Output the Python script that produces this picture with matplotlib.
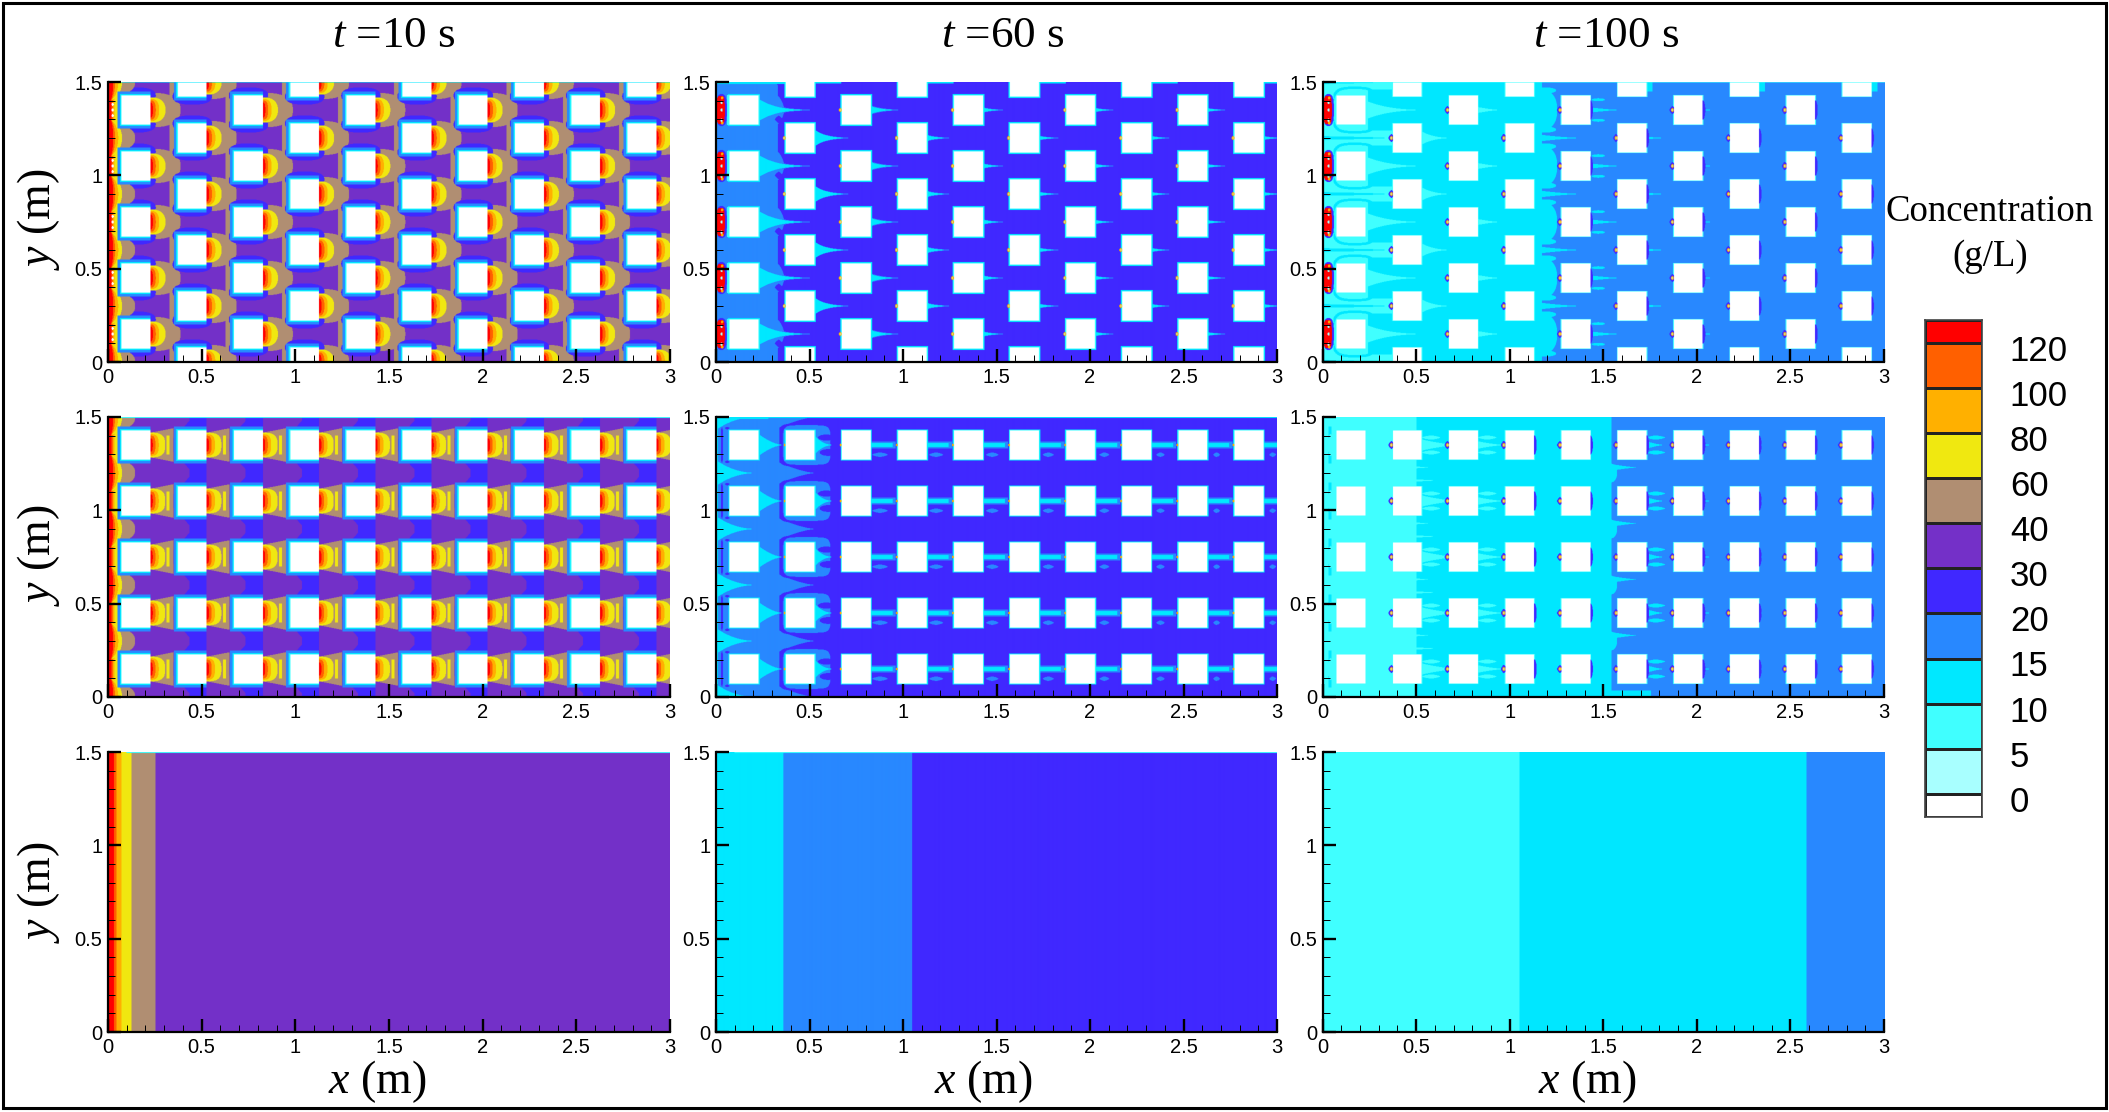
import numpy as np
import matplotlib
matplotlib.use("Agg")
import matplotlib.pyplot as plt
from matplotlib.colors import ListedColormap, BoundaryNorm
from matplotlib.patches import Rectangle
from matplotlib.ticker import MultipleLocator, FixedLocator

W, H = 2109, 1112
TITLES = ["10", "60", "100"]
X_TICKS = [0, 0.5, 1, 1.5, 2, 2.5, 3]
X_TICK_LABELS = ["0", "0.5", "1", "1.5", "2", "2.5", "3"]
Y_TICKS = [0, 0.5, 1, 1.5]
Y_TICK_LABELS = ["0", "0.5", "1", "1.5"]
LEVELS = [0, 5, 10, 15, 20, 30, 40, 60, 80, 100, 120]
COLORS = ["#FFFFFF", "#A8FFFF", "#40FFFF", "#00E8FF", "#2888FF", "#4028FF",
          "#7430C8", "#B08E72", "#F0E810", "#FFB000", "#FF6000", "#FF0000"]
# concentration of each contour band, g/L
BLOCK, PALE, AQUA, CYAN, BLUE, INDIGO, PURPLE, BROWN, YELLOW, AMBER, ORANGE, RED = \
    -5, 2.5, 7.5, 12.5, 17.5, 25, 35, 50, 70, 90, 110, 130

BLOCK_COLUMNS = [0.15, 0.45, 0.75, 1.05, 1.35, 1.65, 1.95, 2.25, 2.55, 2.85]
ROWS_A = [0.15, 0.45, 0.75, 1.05, 1.35]
ROWS_B = [0.0, 0.3, 0.6, 0.9, 1.2, 1.5]
HALF = 0.077

# homogeneous model (bottom row): right edge of each band and its value
BAND_EDGES_10 = [0.033, 0.046, 0.073, 0.125, 0.253, 3.0]
BAND_VALUES_10 = [RED, ORANGE, AMBER, YELLOW, BROWN, PURPLE]
BAND_EDGES_60 = [0.36, 1.05, 3.0]
BAND_VALUES_60 = [CYAN, BLUE, INDIGO]
BAND_EDGES_100 = [1.05, 2.58, 3.0]
BAND_VALUES_100 = [AQUA, CYAN, BLUE]

# wake streak length / half height per block column
WAKE60S_L = [0.38, 0.26, 0.23, 0.20, 0.19, 0.19, 0.18, 0.18, 0.18, 0.18]
WAKE60S_H = [0.06, 0.045, 0.03, 0.022, 0.018, 0.016, 0.015, 0.015, 0.014, 0.014]
WAKE100S_L = [0.38, 0.20, 0.13, 0.27, 0.18, 0.12, 0.07, 0.03, 0.0, 0.03]
WAKE100S_H = [0.05, 0.035, 0.016, 0.022, 0.014, 0.007, 0.005, 0.004, 0.0, 0.004]
WAKE100S_V = [AQUA, AQUA, AQUA, CYAN, CYAN, CYAN, CYAN, CYAN, CYAN, CYAN]
WAKE100A_L = [0.0, 0.20, 0.15, 0.09, 0.10, 0.10, 0.05, 0.03, 0.02, 0.02]
WAKE100A_H = [0.0, 0.03, 0.02, 0.012, 0.012, 0.02, 0.008, 0.005, 0.004, 0.004]
WAKE100A_V = [AQUA, AQUA, AQUA, CYAN, CYAN, CYAN, CYAN, CYAN, CYAN, CYAN]

NX, NY = 1124, 560
xc = (np.arange(NX) + 0.5) * 3.0 / NX
yc = (np.arange(NY) + 0.5) * 1.5 / NY


def sl(x0, x1, y0, y1):
    i0, i1 = np.searchsorted(xc, [x0, x1])
    j0, j1 = np.searchsorted(yc, [y0, y1])
    return slice(j0, j1), slice(i0, i1)


def rect(Z, x0, x1, y0, y1, v):
    Z[sl(x0, x1, y0, y1)] = v


def ell(Z, cx, cy, a, b, v, p=2.0):
    s = sl(cx - a, cx + a, cy - b, cy + b)
    X, Y = np.meshgrid(xc[s[1]], yc[s[0]])
    Z[s][(np.abs(X - cx) / a) ** p + (np.abs(Y - cy) / b) ** p <= 1] = v


def taper(Z, x0, L, cy, h, v, p=2.0):
    if L <= 0 or h <= 0:
        return
    s = sl(x0, x0 + L, cy - h, cy + h)
    X, Y = np.meshgrid(xc[s[1]], yc[s[0]])
    Z[s][np.abs(Y - cy) <= h * (1 - (X - x0) / L) ** p] = v


def blocks(staggered):
    for i, cx in enumerate(BLOCK_COLUMNS):
        rows = ROWS_B if (staggered and i % 2) else ROWS_A
        for cy in rows:
            yield i, cx, cy


def rim(Z, staggered, layers, right=True):
    for d, v in layers:
        for _, cx, cy in blocks(staggered):
            rect(Z, cx - HALF - d, cx + HALF + (d if right else 0),
                 cy - HALF - d, cy + HALF + d, v)


def punch(Z, staggered):
    for _, cx, cy in blocks(staggered):
        rect(Z, cx - HALF, cx + HALF, cy - HALF, cy + HALF, BLOCK)


def inlet_hot(Z):
    rect(Z, 0, 0.05, 0, 1.5, YELLOW)
    rect(Z, 0, 0.035, 0, 1.5, AMBER)
    rect(Z, 0, 0.026, 0, 1.5, ORANGE)
    rect(Z, 0, 0.018, 0, 1.5, RED)
    for cy in ROWS_B:
        ell(Z, 0, cy, 0.145, 0.07, BROWN, 2.5)
    for cy in ROWS_B:
        ell(Z, 0.0, cy, 0.075, 0.10, YELLOW)
        ell(Z, 0.0, cy, 0.055, 0.10, AMBER)
        ell(Z, 0.0, cy, 0.038, 0.11, ORANGE)
        ell(Z, 0.0, cy, 0.028, 0.12, RED)


def inlet_spots(Z):
    for cy in ROWS_A:
        rect(Z, 0.006, 0.055, cy - 0.09, cy + 0.09, Z[sl(0.03, 0.04, cy + 0.11, cy + 0.12)].flat[0])
        ell(Z, 0.03, cy, 0.028, 0.085, INDIGO, 3)
        ell(Z, 0.025, cy, 0.022, 0.075, RED, 4)
        for dy in (-0.055, 0.0, 0.04):
            ell(Z, 0.03, cy + dy, 0.006, 0.009, PALE)
        for dy in (-0.07, 0.065):
            ell(Z, 0.033, cy + dy, 0.007, 0.008, AMBER)


def dots(Z, staggered, start=1, dia=True, rx=0.016, ry=0.022, right_from=None):
    for i, cx, cy in blocks(staggered):
        if i >= start and (0.03 < cy < 1.47):
            x = cx - HALF - 0.008
            if dia:
                ell(Z, x, cy, rx, ry, INDIGO, 1.3)
            ell(Z, x, cy, 0.008, 0.010, AMBER)
            ell(Z, x, cy, 0.004, 0.004, PALE)
        if right_from is not None and i >= right_from and (0.03 < cy < 1.47):
            ell(Z, cx + HALF, cy, 0.014, 0.052, INDIGO)


def field_stag_10():
    Z = np.full((NY, NX), PURPLE, float)
    for i, cx in enumerate(BLOCK_COLUMNS):
        rect(Z, cx + 0.178, cx + 0.205, 0, 1.5, BROWN)
    for _, cx, cy in blocks(True):
        ell(Z, cx + HALF, cy, 0.16, 0.092, BROWN, 2.6)
    for _, cx, cy in blocks(True):
        ell(Z, cx, cy + HALF, 0.105, 0.044, INDIGO, 2.5)
        ell(Z, cx, cy - HALF, 0.105, 0.044, INDIGO, 2.5)
    inlet_hot(Z)
    for cy in ROWS_A:
        for dy in (-0.03, 0.0, 0.03):
            ell(Z, 0.025, cy + dy, 0.006, 0.008, BLOCK)
    rim(Z, True, [(0.022, BLUE), (0.009, CYAN), (0.004, AQUA)], right=False)
    for _, cx, cy in blocks(True):
        xr = cx + HALF
        ell(Z, xr, cy, 0.080, 0.068, YELLOW, 2.4)
        ell(Z, xr, cy, 0.046, 0.060, AMBER, 2.6)
        ell(Z, xr, cy, 0.028, 0.052, ORANGE, 2.6)
        ell(Z, xr, cy, 0.013, 0.040, RED, 2.6)
    punch(Z, True)
    rect(Z, 0, 3, 1.496, 1.5, CYAN)
    return Z


def field_stag_60():
    Z = np.full((NY, NX), INDIGO, float)
    rect(Z, 0, 0.33, 0, 1.5, BLUE)
    for cy in ROWS_A:
        ell(Z, 0.29, cy, 0.075, 0.10, BLUE, 1.7)
    for cy in ROWS_B:
        ell(Z, 0.335, cy + 0.1 if cy < 1.5 else cy, 0.02, 0.02, INDIGO, 1.2)
    for i, cx, cy in blocks(True):
        L, h = WAKE60S_L[i], WAKE60S_H[i]
        if 0.03 < cy < 1.47:
            taper(Z, cx + HALF, L * 1.04, cy, h * 0.8, BLUE, 3.0)
            taper(Z, cx + HALF, L, cy, h * 0.7 if i > 1 else h, CYAN, 4.0)
    rect(Z, 0, 0.006, 0, 1.5, CYAN)
    rect(Z, 0, 0.5, 1.49, 1.5, CYAN)
    rect(Z, 0.55, 1.1, 0, 0.006, CYAN)
    for c in BLOCK_COLUMNS[1::2]:
        rect(Z, c + HALF, c + 0.22, 1.492, 1.5, CYAN)
    inlet_spots(Z)
    rim(Z, True, [(0.008, CYAN), (0.004, AQUA)])
    for cy in ROWS_A:
        rect(Z, 0.06, 0.073, cy - 0.08, cy + 0.08, AQUA)
    dots(Z, True, dia=False)
    punch(Z, True)
    return Z


def field_stag_100():
    Z = np.full((NY, NX), BLUE, float)
    rect(Z, 0, 1.17, 0, 1.5, CYAN)
    for cy in ROWS_A:
        ell(Z, 1.17, cy, 0.08, 0.105, CYAN, 2.4)
    for cy in ROWS_B:
        ell(Z, 1.19, cy + 0.045, 0.055, 0.016, CYAN)
        ell(Z, 1.19, cy - 0.045, 0.055, 0.016, CYAN)
        if 0.03 < cy < 1.47:
            taper(Z, 1.125, 0.28, cy, 0.014, CYAN)
    rect(Z, 0, 0.37, 0, 1.5, AQUA)
    for cy in ROWS_B:
        taper(Z, 0, 0.34, cy, 0.010, CYAN, 0.6)
    for cy in ROWS_A:
        ell(Z, 0.17, cy, 0.125, 0.125, CYAN, 3.5)
        ell(Z, 0.17, cy, 0.112, 0.112, AQUA, 3.5)
        rect(Z, 0.24, 0.37, cy - 0.11, cy + 0.11, CYAN)
    for c in BLOCK_COLUMNS[1::2]:
        rect(Z, c + HALF, c + 0.11, 1.45, 1.5, CYAN)
    for i, cx, cy in blocks(True):
        if 0.03 < cy < 1.47:
            taper(Z, cx + HALF, WAKE100S_L[i], cy, WAKE100S_H[i], WAKE100S_V[i], 3.0 if i < 2 else 1.6)
    for cy in ROWS_A:
        ell(Z, 1.47, cy + 0.055, 0.035, 0.008, CYAN)
        ell(Z, 1.47, cy - 0.055, 0.035, 0.008, CYAN)
    inlet_spots(Z)
    rim(Z, True, [(0.004, AQUA)])
    dots(Z, True, right_from=4)
    punch(Z, True)
    rect(Z, 0, 3, 1.497, 1.5, AQUA)
    return Z


def field_align_10():
    Z = np.full((NY, NX), PURPLE, float)
    X, Y = np.meshgrid(xc, yc)
    dy = np.abs(Y - np.round(Y / 0.3) * 0.3)
    for cx in BLOCK_COLUMNS[1:]:
        xleft = cx - 0.015 - 0.9 * np.maximum(0, dy - 0.02)
        Z[(X >= xleft) & (X <= cx + HALF)] = INDIGO
    inlet_hot(Z)
    rim(Z, False, [(0.022, BLUE), (0.009, CYAN), (0.004, AQUA)], right=False)
    for _, cx, cy in blocks(False):
        xr = cx + HALF
        i0 = sl(xr, xr + 0.122, cy - 0.09, cy + 0.09)
        Xs, Ys = np.meshgrid(xc[i0[1]], yc[i0[0]])
        Z[i0][np.abs(Ys - cy) <= 0.066 + 0.024 * (Xs - xr) / 0.122] = BROWN
        ell(Z, xr, cy, 0.078, 0.066, YELLOW, 3)
        ell(Z, xr, cy, 0.044, 0.058, AMBER, 3)
        ell(Z, xr, cy, 0.026, 0.050, ORANGE, 3)
        ell(Z, xr, cy, 0.012, 0.036, RED, 3)
        rect(Z, xr + 0.086, xr + 0.102, cy - 0.052, cy + 0.052, YELLOW)
    punch(Z, False)
    rect(Z, 0.05, 3, 1.495, 1.5, AQUA)
    return Z


def field_align_60():
    Z = np.full((NY, NX), INDIGO, float)
    rect(Z, 0, 0.34, 0, 1.5, BLUE)
    for cy in ROWS_B:
        taper(Z, 0.3, 0.24, cy, 0.075, BLUE, 1.6)
    for cy in ROWS_A:
        ell(Z, 0.475, cy, 0.14, 0.114, INDIGO, 6)
        ell(Z, 0.485, cy, 0.127, 0.106, BLUE, 6)
    rect(Z, 0.23, 0.34, 0, 1.5, BLUE)
    for cy in ROWS_B:
        taper(Z, 0, 0.235, cy, 0.07, CYAN, 2.4)
    rect(Z, 0, 0.012, 0, 1.5, CYAN)
    rect(Z, 0, 0.28, 1.488, 1.5, CYAN)
    rect(Z, 0, 0.12, 0, 0.012, CYAN)
    for cy in ROWS_A:
        ell(Z, 0.032, cy, 0.006, 0.095, INDIGO, 3)
        ell(Z, 0.06, cy + 0.09, 0.012, 0.006, INDIGO)
        ell(Z, 0.06, cy - 0.09, 0.012, 0.006, INDIGO)
        taper(Z, 0.225, 0.14, cy, 0.062, CYAN, 1.8)
        taper(Z, 0.525, 0.13, cy, 0.055, CYAN, 3.0)
        ell(Z, 0.6, cy - 0.04, 0.045, 0.018, INDIGO)
        ell(Z, 0.59, cy + 0.04, 0.045, 0.016, INDIGO)
    for i, cx, cy in blocks(False):
        if i >= 2:
            xr = cx + HALF
            rect(Z, xr, xr + 0.135, cy - 0.018, cy + 0.018, BLUE)
            rect(Z, xr, xr + 0.118, cy - 0.01, cy + 0.01, CYAN)
            ell(Z, xr + 0.05, cy - 0.052, 0.05 - 0.004 * min(i, 8), 0.012, BLUE, 1.4)
    rim(Z, False, [(0.007, CYAN), (0.003, AQUA)])
    rect(Z, 0, 3, 1.495, 1.5, CYAN)
    for i, cx, cy in blocks(False):
        if i >= 1:
            ell(Z, cx - HALF - 0.006, cy, 0.005, 0.007, AMBER)
    punch(Z, False)
    return Z


def field_align_100():
    Z = np.full((NY, NX), BLUE, float)
    rect(Z, 0, 1.54, 0, 1.5, CYAN)
    for cy in ROWS_B:
        if 0.03 < cy < 1.47:
            ell(Z, 1.54, cy, 0.03, 0.05, CYAN)
            taper(Z, 1.53, 0.16, cy + 0.03, 0.02, CYAN, 1.5)
    rect(Z, 1.5, 1.75, 0, 0.035, CYAN)
    rect(Z, 0, 0.5, 0, 1.5, AQUA)
    for cy in ROWS_B:
        if 0.03 < cy < 1.47:
            taper(Z, 0.42, 0.16, cy + 0.03, 0.012, AQUA, 1.3)
            taper(Z, 0.42, 0.2, cy - 0.04, 0.012, AQUA, 1.3)
    rect(Z, 0.5, 0.56, 0, 0.06, CYAN)
    for i, cx, cy in blocks(False):
        taper(Z, cx + HALF, WAKE100A_L[i], cy, WAKE100A_H[i], WAKE100A_V[i], 1.5)
        if 1 <= i <= 5:
            ell(Z, cx + HALF + 0.05, cy + 0.04, 0.05, 0.011, WAKE100A_V[i], 1.4)
            ell(Z, cx + HALF + 0.05, cy - 0.04, 0.05, 0.011, WAKE100A_V[i], 1.4)
    for cy in ROWS_A:
        rect(Z, 0.03, 0.045, cy - 0.1, cy + 0.1, CYAN)
        ell(Z, 0.04, cy, 0.012, 0.06, AQUA)
    rim(Z, False, [(0.004, AQUA)])
    dots(Z, False, right_from=3)
    punch(Z, False)
    return Z


def field_bands(edges, values, top=None):
    Z = np.zeros((NY, NX))
    left = 0.0
    for e, v in zip(edges, values):
        rect(Z, left, e, 0, 1.5, v)
        left = e
    if top is not None:
        rect(Z, 0.1, 3, 1.495, 1.5, top)
    return Z


plt.rcParams["mathtext.fontset"] = "custom"
plt.rcParams["mathtext.rm"] = "Liberation Serif"
plt.rcParams["mathtext.it"] = "Liberation Serif:italic"
plt.rcParams["font.family"] = "Liberation Sans"

fig = plt.figure(figsize=(W / 100, H / 100), dpi=100, facecolor="white")
bounds = [-10] + LEVELS + [140]
cmap = ListedColormap(COLORS)
norm = BoundaryNorm(bounds, cmap.N)


def axpx(x0, x1, y0, y1):
    return fig.add_axes([x0 / W, 1 - y1 / H, (x1 - x0) / W, (y1 - y0) / H])


COL_PX = [(108, 670), (716, 1277), (1322.5, 1884)]
ROW_PX = [(82, 362), (417, 697), (752, 1032)]
fields = [
    [field_stag_10(), field_stag_60(), field_stag_100()],
    [field_align_10(), field_align_60(), field_align_100()],
    [field_bands(BAND_EDGES_10, BAND_VALUES_10, AQUA),
     field_bands(BAND_EDGES_60, BAND_VALUES_60, AQUA),
     field_bands(BAND_EDGES_100, BAND_VALUES_100)],
]
for r, (ry0, ry1) in enumerate(ROW_PX):
    for c, (cx0, cx1) in enumerate(COL_PX):
        ax = axpx(cx0, cx1, ry0, ry1)
        ax.imshow(fields[r][c], extent=(0, 3, 0, 1.5), origin="lower", aspect="auto",
                  cmap=cmap, norm=norm, interpolation="hanning",
                  interpolation_stage="rgba", zorder=1)
        ax.set_xlim(0, 3)
        ax.set_ylim(0, 1.5)
        ax.spines["top"].set_visible(False)
        ax.spines["right"].set_visible(False)
        ax.spines["left"].set_linewidth(1.6)
        ax.spines["bottom"].set_linewidth(1.6)
        ax.xaxis.set_major_locator(FixedLocator(X_TICKS))
        ax.yaxis.set_major_locator(FixedLocator(Y_TICKS))
        ax.set_xticklabels(X_TICK_LABELS)
        ax.set_yticklabels(Y_TICK_LABELS)
        ax.xaxis.set_minor_locator(MultipleLocator(0.1))
        ax.yaxis.set_minor_locator(MultipleLocator(0.1))
        ax.tick_params(which="major", direction="in", length=9.5, width=1.7,
                       labelsize=14.5, pad=4)
        ax.tick_params(which="minor", direction="in", length=5, width=0.7)


def label(px, py, s, **kw):
    fig.text(px / W, 1 - py / H, s, ha="center", va="center",
             family="Liberation Serif", **kw)


for t, px in zip(TITLES, [394, 1003, 1606]):
    label(px, 36, r"$\mathit{t}$ =" + t + " s", fontsize=32.5)
for py in [219, 555, 892]:
    label(38, py, r"$\mathit{y}$ (m)", fontsize=33, rotation=90)
for px in [377, 983, 1587]:
    label(px, 1082, r"$\mathit{x}$ (m)", fontsize=33)
label(1990, 212, "Concentration", fontsize=26.5)
label(1990, 257, "(g/L)", fontsize=26.5)

cb = axpx(1925, 1982, 320, 816.5)
edges = np.array([-0.5] + list(range(len(LEVELS))) + [len(LEVELS) - 0.5])
mids = [(bounds[i] + bounds[i + 1]) / 2 for i in range(len(bounds) - 1)]
cb.pcolormesh([0, 1], edges, np.array(mids)[:, None], cmap=cmap, norm=norm,
              edgecolors="#222222", linewidth=0.9)
cb.set_xlim(0, 1)
cb.set_ylim(-0.5, len(LEVELS) - 0.5)
cb.set_xticks([])
cb.yaxis.tick_right()
cb.set_yticks(np.arange(len(LEVELS)) - 0.11)
cb.set_yticklabels([str(v) for v in LEVELS])
cb.tick_params(axis="y", length=0, labelsize=25, pad=20)
for s in cb.spines.values():
    s.set_linewidth(1.2)
    s.set_color("#444444")

fig.add_artist(Rectangle((3 / W, 4 / H), (W - 6) / W, (H - 7) / H, transform=fig.transFigure,
                         fill=False, edgecolor="black", linewidth=2.2))
fig.savefig("out.png", dpi=100, facecolor="white")
